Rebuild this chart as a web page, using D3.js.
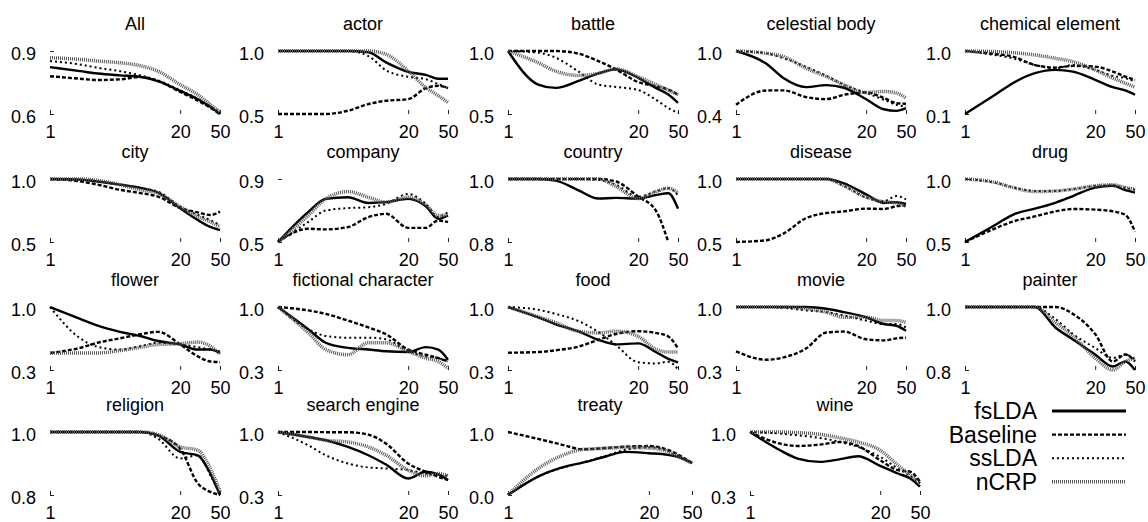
<!DOCTYPE html>
<html>
<head>
<meta charset="utf-8">
<script src="https://cdn.jsdelivr.net/npm/d3@7"></script>
<style>
  body { margin: 0; background: #fff; }
  svg text { font-family: "Liberation Sans", Arial, sans-serif; fill: #000; }
</style>
</head>
<body>
<svg id="chart" width="1148" height="522"></svg>
<script>
// number of topics on the x axis (log scale)
const xVals = [1, 2, 3, 5, 8, 12, 20, 30, 40, 50]
const xTicks = [1, 20, 50]

const panels = ["All", "actor", "battle", "celestial body", "chemical element",
  "city", "company", "country", "disease", "drug",
  "flower", "fictional character", "food", "movie", "painter",
  "religion", "search engine", "treaty", "wine"]
const yMax = [0.9, 1.0, 1.0, 1.0, 1.0, 1.0, 0.9, 1.0, 1.0, 1.0, 1.0, 1.0, 1.0, 1.0, 1.0, 1.0, 1.0, 1.0, 1.0]
const yMin = [0.6, 0.5, 0.5, 0.4, 0.1, 0.5, 0.5, 0.8, 0.5, 0.5, 0.3, 0.3, 0.3, 0.3, 0.8, 0.8, 0.3, 0.0, 0.3]

const seriesNames = ["fsLDA", "Baseline", "ssLDA", "nCRP"]

// one row per panel, same order as panels
const fsLDA = [
  [0.823, 0.804, 0.793, 0.784, 0.777, 0.757, 0.71, 0.67, 0.634, 0.60],
  [1, 1, 1, 1, 0.99, 0.91, 0.835, 0.81, 0.78, 0.78],
  [1, 0.734, 0.707, 0.76, 0.822, 0.854, 0.787, 0.707, 0.654, 0.588],
  [1, 0.88, 0.74, 0.656, 0.675, 0.65, 0.54, 0.445, 0.43, 0.455],
  [0.1, 0.375, 0.54, 0.683, 0.73, 0.706, 0.588, 0.484, 0.436, 0.375],
  [1, 0.995, 0.98, 0.955, 0.93, 0.893, 0.767, 0.674, 0.62, 0.594],
  [0.5, 0.69, 0.774, 0.784, 0.748, 0.753, 0.774, 0.727, 0.647, 0.668],
  [1, 1, 0.995, 0.965, 0.938, 0.94, 0.938, 0.949, 0.955, 0.906],
  [1, 1, 1, 1, 1, 0.965, 0.878, 0.81, 0.816, 0.803],
  [0.5, 0.635, 0.716, 0.765, 0.811, 0.865, 0.932, 0.946, 0.911, 0.892],
  [1, 0.868, 0.792, 0.724, 0.678, 0.622, 0.584, 0.527, 0.527, 0.489],
  [1, 0.754, 0.603, 0.546, 0.527, 0.508, 0.5, 0.554, 0.527, 0.414],
  [1, 0.885, 0.808, 0.731, 0.635, 0.585, 0.596, 0.5, 0.423, 0.385],
  [1, 1, 1, 1, 0.981, 0.943, 0.886, 0.811, 0.792, 0.735],
  [1, 1, 1, 1, 0.935, 0.897, 0.849, 0.811, 0.827, 0.8],
  [1, 1, 1, 1, 1, 0.989, 0.937, 0.926, 0.868, 0.8],
  [1, 0.945, 0.908, 0.834, 0.742, 0.639, 0.484, 0.558, 0.528, 0.466],
  [0, 0.311, 0.425, 0.518, 0.611, 0.684, 0.663, 0.637, 0.585, 0.508],
  [1, 0.797, 0.705, 0.668, 0.698, 0.731, 0.624, 0.539, 0.484, 0.392]
]
const baseline = [
  [0.78, 0.768, 0.762, 0.765, 0.776, 0.757, 0.705, 0.664, 0.63, 0.6],
  [0.5, 0.5, 0.5, 0.526, 0.579, 0.605, 0.618, 0.705, 0.724, 0.705],
  [1, 1, 1, 0.98, 0.92, 0.854, 0.753, 0.72, 0.694, 0.654],
  [0.488, 0.624, 0.625, 0.561, 0.542, 0.583, 0.605, 0.552, 0.504, 0.498],
  [1, 0.957, 0.92, 0.8, 0.763, 0.787, 0.777, 0.706, 0.635, 0.588],
  [1, 0.981, 0.955, 0.914, 0.888, 0.861, 0.77, 0.735, 0.714, 0.741],
  [0.5, 0.584, 0.58, 0.595, 0.658, 0.679, 0.59, 0.59, 0.637, 0.626],
  [1, 1, 1, 1, 1, 0.992, 0.944, 0.9, 0.8, null],
  [0.5, 0.514, 0.568, 0.689, 0.73, 0.743, 0.765, 0.762, 0.784, 0.79],
  [0.5, 0.608, 0.662, 0.703, 0.743, 0.762, 0.757, 0.743, 0.716, 0.581],
  [0.489, 0.546, 0.603, 0.652, 0.697, 0.724, 0.584, 0.451, 0.395, 0.387],
  [1, 0.962, 0.924, 0.849, 0.773, 0.697, 0.527, 0.47, 0.432, 0.395],
  [0.492, 0.5, 0.519, 0.558, 0.635, 0.7, 0.731, 0.712, 0.673, 0.538],
  [0.508, 0.414, 0.44, 0.538, 0.716, 0.727, 0.641, 0.629, 0.652, 0.659],
  [1, 1, 1, 1, 1, 0.978, 0.914, 0.827, 0.849, 0.827],
  [1, 1, 1, 1, 1, 0.989, 0.947, 0.837, 0.81, 0.8],
  [1, 1, 0.998, 0.997, 0.971, 0.871, 0.65, 0.558, 0.503, 0.466],
  [1, 0.881, 0.808, 0.725, 0.746, 0.767, 0.777, 0.715, 0.611, 0.508],
  [1, 0.871, 0.845, 0.86, 0.889, 0.845, 0.687, 0.576, 0.558, 0.447]
]
const ssLDA = [
  [0.852, 0.836, 0.82, 0.804, 0.784, 0.76, 0.713, 0.672, 0.637, 0.605],
  [1, 1, 1, 1, 0.96, 0.847, 0.795, 0.776, 0.737, 0.705],
  [1, 0.987, 0.947, 0.84, 0.734, 0.715, 0.69, 0.614, 0.547, 0.508],
  [1, 0.978, 0.93, 0.85, 0.763, 0.678, 0.6, 0.536, 0.488, 0.473],
  [1, 0.943, 0.896, 0.8, 0.754, 0.8, 0.73, 0.645, 0.612, 0.564],
  [1, 0.995, 0.981, 0.955, 0.928, 0.9, 0.78, 0.714, 0.674, 0.634],
  [0.5, 0.626, 0.7, 0.715, 0.721, 0.742, 0.805, 0.742, 0.658, 0.69],
  [1, 1, 1, 1, 0.997, 0.982, 0.944, 0.96, 0.971, 0.949],
  [1, 1, 1, 1, 1, 0.946, 0.851, 0.824, 0.865, 0.838],
  [1, 0.97, 0.935, 0.905, 0.905, 0.92, 0.945, 0.95, 0.93, 0.915],
  [1, 0.652, 0.557, 0.527, 0.565, 0.603, 0.584, 0.554, 0.527, 0.508],
  [1, 0.754, 0.678, 0.659, 0.659, 0.641, 0.508, 0.451, 0.432, 0.395],
  [1, 0.969, 0.923, 0.846, 0.723, 0.577, 0.385, 0.373, 0.392, 0.308],
  [1, 1, 0.99, 0.962, 0.943, 0.905, 0.849, 0.811, 0.811, 0.773],
  [1, 1, 1, 1, 0.962, 0.914, 0.87, 0.838, 0.849, 0.832],
  [1, 1, 1, 1, 1, 0.979, 0.916, 0.926, 0.863, 0.8],
  [1, 0.853, 0.742, 0.65, 0.606, 0.595, 0.576, 0.539, 0.521, 0.514],
  [0, 0.31, 0.42, 0.52, 0.62, 0.715, 0.756, 0.7, 0.585, 0.508],
  [1, 0.982, 0.963, 0.934, 0.889, 0.834, 0.724, 0.595, 0.514, 0.429]
]
const nCRP = [
  [0.868, 0.86, 0.852, 0.844, 0.83, 0.804, 0.74, 0.692, 0.645, 0.61],
  [1, 1, 1, 1, 1, 0.974, 0.842, 0.71, 0.645, 0.592],
  [1, 0.907, 0.84, 0.806, 0.822, 0.859, 0.795, 0.734, 0.689, 0.654],
  [1, 0.978, 0.946, 0.836, 0.757, 0.678, 0.605, 0.615, 0.6, 0.552],
  [1, 0.991, 0.976, 0.943, 0.896, 0.848, 0.73, 0.612, 0.54, 0.484],
  [1, 1, 0.989, 0.955, 0.914, 0.888, 0.78, 0.7, 0.66, 0.62],
  [0.5, 0.668, 0.774, 0.82, 0.784, 0.753, 0.784, 0.736, 0.668, 0.673],
  [1, 1, 1, 1, 1, 0.976, 0.938, 0.96, 0.971, 0.955],
  [1, 1, 1, 1, 1, 0.946, 0.857, 0.819, 0.811, 0.784],
  [1, 0.973, 0.932, 0.9, 0.905, 0.919, 0.946, 0.954, 0.932, 0.919],
  [0.489, 0.489, 0.489, 0.516, 0.553, 0.584, 0.592, 0.61, 0.565, 0.478],
  [1, 0.716, 0.527, 0.47, 0.603, 0.603, 0.508, 0.432, 0.395, 0.319],
  [1, 0.892, 0.827, 0.731, 0.712, 0.731, 0.673, 0.531, 0.5, 0.5],
  [1, 1, 1, 0.981, 0.943, 0.886, 0.886, 0.849, 0.849, 0.83],
  [1, 1, 1, 1, 0.951, 0.908, 0.838, 0.8, 0.827, 0.838],
  [1, 1, 1, 1, 1, 0.992, 0.953, 0.942, 0.884, 0.811],
  [1, 0.945, 0.908, 0.889, 0.834, 0.742, 0.576, 0.514, 0.539, 0.514],
  [0, 0.446, 0.611, 0.725, 0.741, 0.756, 0.746, 0.689, 0.585, 0.508],
  [1, 1, 0.993, 0.974, 0.934, 0.889, 0.797, 0.632, 0.521, 0.429]
]
const allSeries = [fsLDA, baseline, ssLDA, nCRP]

// line look per series (gnuplot-ish monochrome)
const lineStyles = [
  { color: "#000", width: 2.4, dash: null },
  { color: "#000", width: 2.4, dash: "4,2" },
  { color: "#000", width: 2, dash: "2,3" },
  { color: "#555", width: 3.5, dash: "1,1" }
]

// layout
const colX = [50, 278, 508, 736, 965]
const rowTop = [51, 179, 307, 432]
const plotW = 170, plotH = 63

const svg = d3.select("#chart")

panels.forEach((name, i) => {
  const r = Math.floor(i / 5), c = i % 5
  let x0 = colX[c], w = plotW
  // the last row is laid out a bit differently in the original
  if (name === "treaty") { x0 = 508; w = 184 }
  if (name === "wine") { x0 = 750; w = 170 }

  const x = d3.scaleLog().domain([1, 50]).range([0, w])
  const y = d3.scaleLinear().domain([yMin[i], yMax[i]]).range([plotH, 0])

  const g = svg.append("g").attr("transform", "translate(" + x0 + "," + rowTop[r] + ")")

  g.append("text")
    .attr("x", w / 2).attr("y", -21)
    .attr("text-anchor", "middle")
    .style("font-size", "18px")
    .text(name)

  const xAxis = g.append("g")
    .attr("transform", "translate(0," + plotH + ")")
    .call(d3.axisBottom(x).tickValues(xTicks).tickFormat(d3.format("d")).tickSize(-4).tickPadding(11))
  const yAxis = g.append("g")
    .call(d3.axisLeft(y).tickValues([yMin[i], yMax[i]]).tickFormat(d3.format(".1f")).tickSize(-4).tickPadding(14))

  ;[xAxis, yAxis].forEach(a => {
    a.select(".domain").remove()
    a.selectAll("line").attr("stroke", "#222")
    a.selectAll("text").style("font-size", "18px").attr("fill", "#000")
  })
  yAxis.selectAll("text").attr("dy", "0.47em")

  const line = d3.line()
    .defined(d => d[1] !== null)
    .x(d => x(d[0]))
    .y(d => y(d[1]))
    .curve(d3.curveMonotoneX)

  allSeries.forEach((s, k) => {
    const st = lineStyles[k]
    g.append("path")
      .datum(xVals.map((xv, j) => [xv, s[i][j]]))
      .attr("d", line)
      .attr("fill", "none")
      .attr("stroke", st.color)
      .attr("stroke-width", st.width)
      .attr("stroke-dasharray", st.dash)
  })
})

// legend, bottom right
const legend = svg.append("g").attr("transform", "translate(1037,411)")
seriesNames.forEach((n, k) => {
  const st = lineStyles[k]
  const ly = k * 23.6
  legend.append("text")
    .attr("x", 0).attr("y", ly + 8)
    .attr("text-anchor", "end")
    .style("font-size", "23px")
    .text(n)
  legend.append("line")
    .attr("x1", 15).attr("x2", 89)
    .attr("y1", ly).attr("y2", ly)
    .attr("stroke", st.color)
    .attr("stroke-width", k === 0 ? 3 : st.width)
    .attr("stroke-dasharray", st.dash)
})
</script>
</body>
</html>
